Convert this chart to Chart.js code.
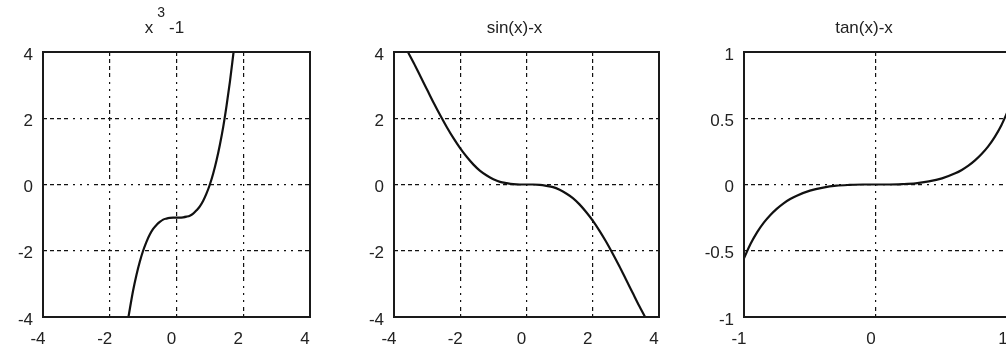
<!DOCTYPE html>
<html>
<head>
<meta charset="utf-8">
<script src="https://cdn.jsdelivr.net/npm/chart.js"></script>
<style>
  html, body { margin: 0; padding: 0; background: #fff; overflow: hidden; }
  body { width: 1006px; height: 352px; position: relative; }
  canvas { position: absolute; top: 0; }
</style>
</head>
<body>
<canvas id="c1" style="left:0px"></canvas>
<canvas id="c2" style="left:335px"></canvas>
<canvas id="c3" style="left:680px"></canvas>
<script>
// x^3 - 1
const cubeX = [-1.44, -1.3, -1.2, -1.1, -1.0, -0.9, -0.8, -0.7, -0.6, -0.5, -0.4, -0.3, -0.2, -0.1, 0,
  0.1, 0.2, 0.3, 0.4, 0.5, 0.6, 0.7, 0.8, 0.9, 1.0, 1.1, 1.2, 1.3, 1.4, 1.5, 1.6, 1.71];
const cubeY = [-4.0, -3.2, -2.73, -2.33, -2.0, -1.73, -1.51, -1.34, -1.22, -1.13, -1.06, -1.03, -1.01, -1.0, -1.0,
  -1.0, -0.99, -0.97, -0.94, -0.88, -0.78, -0.66, -0.49, -0.27, 0.0, 0.33, 0.73, 1.2, 1.74, 2.38, 3.1, 4.0];

// sin(x) - x
const sinX = [-3.58, -3.4, -3.2, -3.0, -2.8, -2.6, -2.4, -2.2, -2.0, -1.8, -1.6, -1.4, -1.2, -1.0, -0.8, -0.6, -0.4, -0.2, 0,
  0.2, 0.4, 0.6, 0.8, 1.0, 1.2, 1.4, 1.6, 1.8, 2.0, 2.2, 2.4, 2.6, 2.8, 3.0, 3.2, 3.4, 3.58];
const sinY = [4.0, 3.66, 3.26, 2.86, 2.46, 2.08, 1.72, 1.39, 1.09, 0.83, 0.6, 0.41, 0.27, 0.16, 0.08, 0.04, 0.01, 0.0, 0,
  0.0, -0.01, -0.04, -0.08, -0.16, -0.27, -0.41, -0.6, -0.83, -1.09, -1.39, -1.72, -2.08, -2.46, -2.86, -3.26, -3.66, -4.0];

// tan(x) - x
const tanX = [-1.0, -0.95, -0.9, -0.85, -0.8, -0.75, -0.7, -0.65, -0.6, -0.5, -0.4, -0.3, -0.2, -0.1, 0,
  0.1, 0.2, 0.3, 0.4, 0.5, 0.6, 0.65, 0.7, 0.75, 0.8, 0.85, 0.9, 0.95, 1.0];
const tanY = [-0.557, -0.448, -0.36, -0.288, -0.23, -0.182, -0.142, -0.11, -0.084, -0.046, -0.023, -0.009, -0.003, 0.0, 0,
  0.0, 0.003, 0.009, 0.023, 0.046, 0.084, 0.11, 0.142, 0.182, 0.23, 0.288, 0.36, 0.448, 0.557];

const titles = ['x^3-1', 'sin(x)-x', 'tan(x)-x'];
const ticks4 = [-4, -2, 0, 2, 4];
const ticksTanX = [-1, 0, 1];
const ticksTanY = [-1, -0.5, 0, 0.5, 1];

// canvas size and y-axis width for each panel
const panels = [
  { id: 'c1', w: 335, yw: 43, pr: 25, x: cubeX, y: cubeY, range: 4, xt: ticks4, yt: ticks4 },
  { id: 'c2', w: 345, yw: 59, pr: 21, x: sinX, y: sinY, range: 4, xt: ticks4, yt: ticks4 },
  { id: 'c3', w: 350, yw: 64, pr: 22, x: tanX, y: tanY, range: 1, xt: ticksTanX, yt: ticksTanY }
];

const FONT = '"Liberation Sans", Arial, sans-serif';
// dash-dot grid pattern
const gridDash = [4, 3, 4, 3, 4, 3, 4, 5, 2, 5, 2, 5, 2, 5];

// box around the plot area
const frame = {
  id: 'frame',
  afterDraw(chart) {
    const { ctx, chartArea: a } = chart;
    ctx.save();
    ctx.strokeStyle = '#1a1a1a';
    ctx.lineWidth = 2;
    ctx.strokeRect(a.left, a.top, a.right - a.left, a.bottom - a.top);
    ctx.restore();
  }
};

// title with a simple one-character superscript after '^'
const plotTitle = {
  id: 'plotTitle',
  afterDraw(chart, args, opts) {
    const { ctx, chartArea: a } = chart;
    const parts = opts.text.split('^');
    ctx.save();
    ctx.fillStyle = '#222';
    ctx.textBaseline = 'middle';
    ctx.textAlign = 'left';
    const big = '17px ' + FONT, small = '14px ' + FONT;
    const pieces = [];
    pieces.push({ t: parts[0], f: big, dy: 0 });
    if (parts.length > 1) {
      pieces.push({ t: parts[1][0], f: small, dy: -15 });
      pieces.push({ t: parts[1].slice(1), f: big, dy: 0 });
    }
    let total = 0;
    pieces.forEach(p => { ctx.font = p.f; p.w = ctx.measureText(p.t).width; total += p.w; });
    total += (pieces.length - 1) * 4;
    let x = (a.left + a.right) / 2 - 12 - total / 2;
    pieces.forEach(p => {
      ctx.font = p.f;
      ctx.fillText(p.t, x, 28 + p.dy);
      x += p.w + 4;
    });
    ctx.restore();
  }
};

function axis(tickVals, range, isX, yw) {
  return {
    type: 'linear',
    min: -range,
    max: range,
    afterBuildTicks(scale) { scale.ticks = tickVals.map(v => ({ value: v })); },
    afterFit(scale) {
      if (isX) scale.height = 35; else scale.width = yw;
    },
    grid: { color: '#111', lineWidth: 1.2, drawTicks: false },
    border: { display: false, dash: gridDash },
    ticks: {
      color: '#222',
      font: { family: FONT, size: 17 },
      padding: isX ? 12 : 10,
      labelOffset: isX ? -5 : 3,
      maxRotation: 0,
      autoSkip: false,
      callback: v => String(v)
    }
  };
}

panels.forEach((p, i) => {
  const cv = document.getElementById(p.id);
  cv.width = p.w;
  cv.height = 352;
  cv.style.width = p.w + 'px';
  cv.style.height = '352px';
  new Chart(cv, {
    type: 'scatter',
    data: {
      datasets: [{
        data: p.x.map((x, k) => ({ x: x, y: p.y[k] })),
        showLine: true,
        borderColor: '#111',
        borderWidth: 2.2,
        pointRadius: 0,
        cubicInterpolationMode: 'monotone'
      }]
    },
    options: {
      responsive: false,
      animation: false,
      devicePixelRatio: 1,
      layout: { padding: { top: 52, right: p.pr, left: 0, bottom: 0 } },
      plugins: {
        legend: { display: false },
        tooltip: { enabled: false },
        plotTitle: { text: titles[i] }
      },
      scales: {
        x: axis(p.xt, p.range, true, p.yw),
        y: axis(p.yt, p.range, false, p.yw)
      }
    },
    plugins: [frame, plotTitle]
  });
});
</script>
</body>
</html>
